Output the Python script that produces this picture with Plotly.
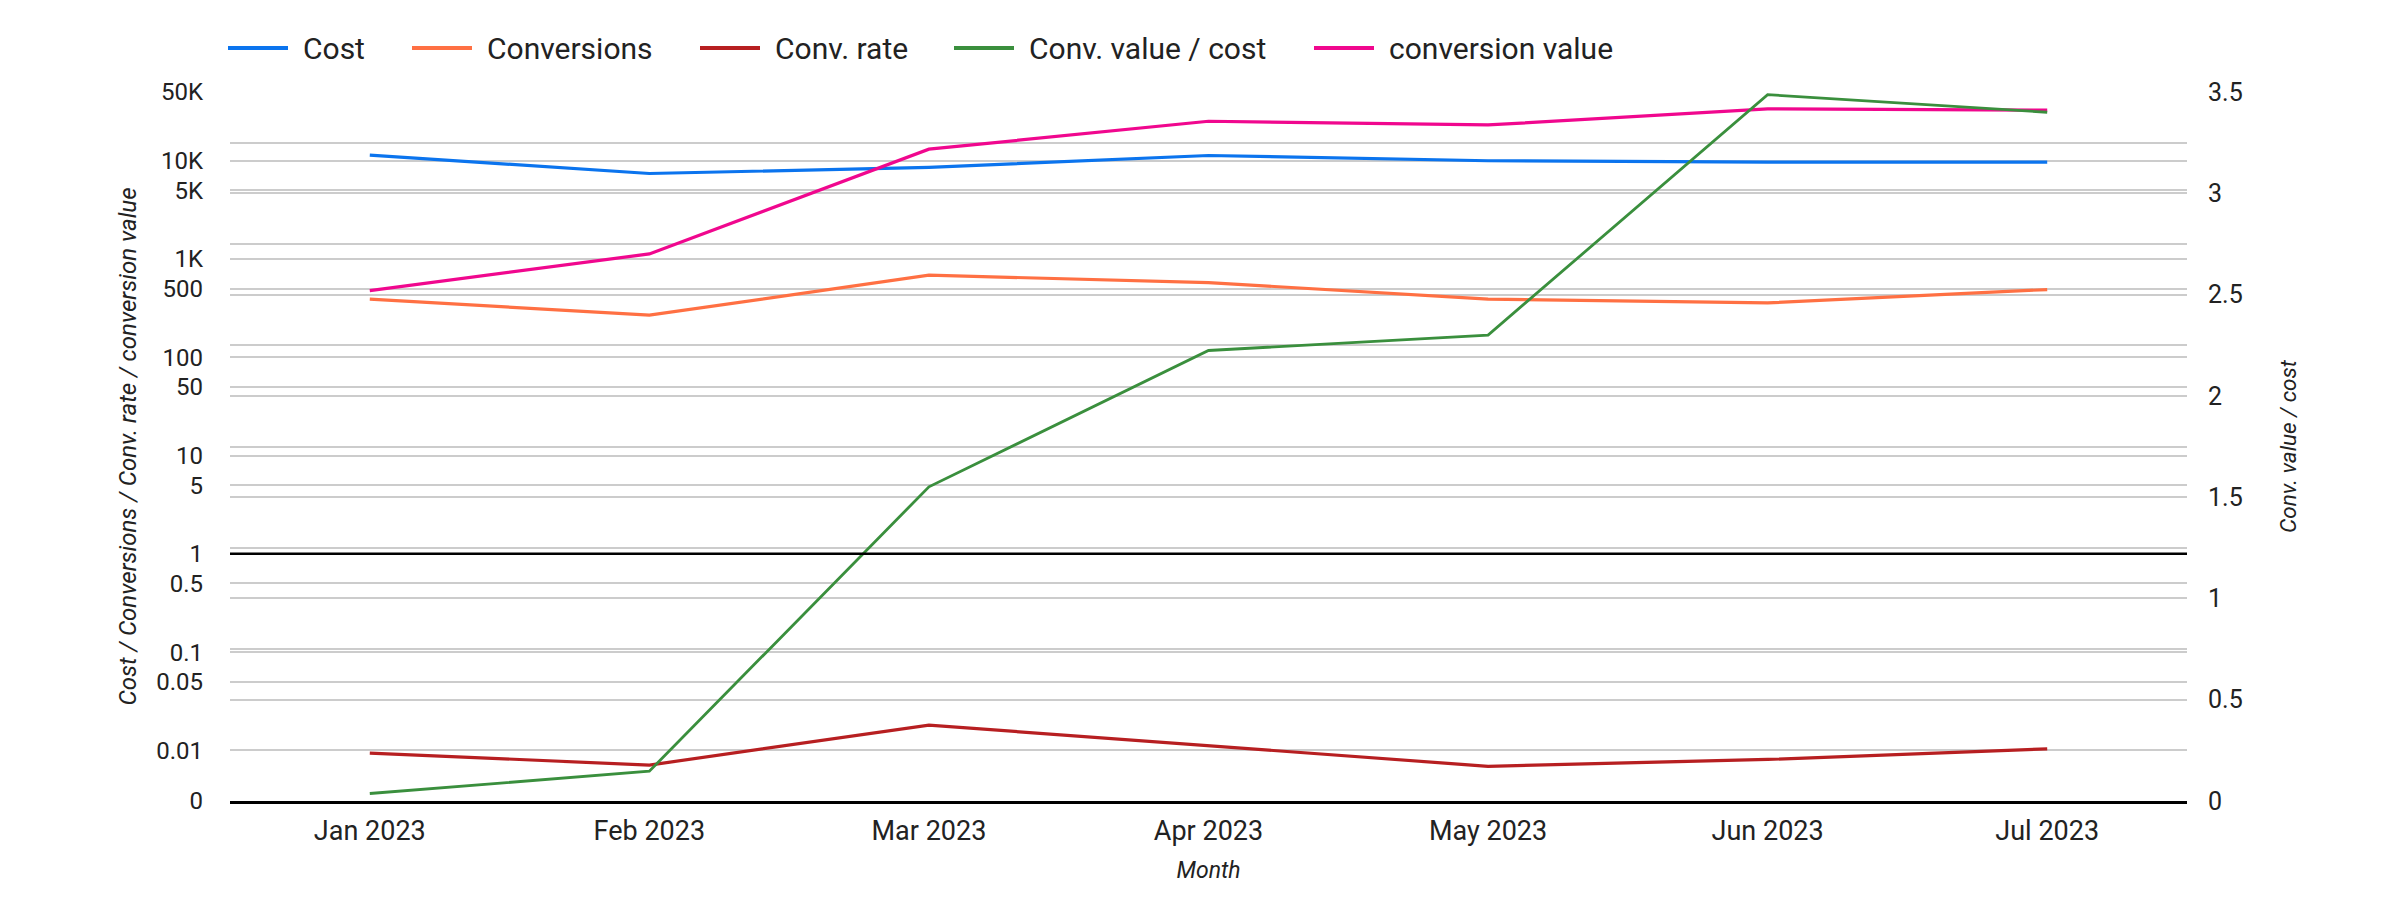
import math
import plotly.graph_objects as go

months = ["Jan 2023", "Feb 2023", "Mar 2023", "Apr 2023", "May 2023", "Jun 2023", "Jul 2023"]
cost = [11400, 7410, 8550, 11300, 9990, 9690, 9690]
conversions = [390, 268, 684, 575, 390, 357, 489]
conv_rate = [0.0094, 0.0071, 0.0181, 0.0112, 0.0069, 0.0081, 0.0104]
conv_value_per_cost = [0.037, 0.147, 1.551, 2.224, 2.30, 3.487, 3.40]
conversion_value = [477, 1127, 13100, 25200, 23100, 33700, 32700]

left_tick_vals = [0.00306, 0.01, 0.05, 0.1, 0.5, 1, 5, 10, 50, 100, 500, 1000, 5000, 10000, 50000]
left_tick_text = ["0", "0.01", "0.05", "0.1", "0.5", "1", "5", "10", "50", "100", "500", "1K", "5K", "10K", "50K"]
right_tick_vals = [i * 0.25 for i in range(15)]
right_tick_text = [("%g" % v) if i % 2 == 0 else "" for i, v in enumerate(right_tick_vals)]

FONT = "Roboto"
TXT = "#222222"
W, H = 2400, 898
ML, MR, MT, MB = 230, 213, 92, 97
PW, PH = W - ML - MR, H - MT - MB


def px_x(px):
    return (px - ML) / PW


def px_y(py):
    return (H - MB - py) / PH


fig = go.Figure()
series = [
    ("Cost", cost, "#0b74ee", 3.2, "y"),
    ("Conversions", conversions, "#ff7043", 3.2, "y"),
    ("Conv. rate", conv_rate, "#b71f21", 3.2, "y"),
    ("Conv. value / cost", conv_value_per_cost, "#3a8f3d", 2.8, "y2"),
    ("conversion value", conversion_value, "#f0078e", 3.2, "y"),
]
for name, vals, color, w, ax in series:
    fig.add_trace(go.Scatter(x=months, y=vals, name=name, mode="lines",
                             line=dict(color=color, width=w), yaxis=ax, showlegend=False))

# manual legend (line swatch 60px + label), matching the chart's header row
legend_starts = [228, 412, 700, 954, 1314]
shapes = [dict(type="line", xref="paper", x0=0, x1=1, yref="y", y0=1, y1=1,
               line=dict(color="black", width=2.5), layer="above")]
annotations = []
for (name, vals, color, w, ax), sx in zip(series, legend_starts):
    shapes.append(dict(type="line", xref="paper", yref="paper",
                       x0=px_x(sx), x1=px_x(sx + 60), y0=px_y(48), y1=px_y(48),
                       line=dict(color=color, width=4)))
    annotations.append(dict(text=name, xref="paper", yref="paper", x=px_x(sx + 73), y=px_y(48),
                            xanchor="left", yanchor="middle", showarrow=False,
                            font=dict(size=30, color=TXT, family=FONT)))

fig.update_layout(
    width=W, height=H,
    margin=dict(l=ML, r=MR, t=MT, b=MB),
    paper_bgcolor="white", plot_bgcolor="white",
    font=dict(family=FONT, size=24, color=TXT),
    showlegend=False,
    xaxis=dict(type="category", range=[-0.5, 6.5], showgrid=False,
               showline=True, linecolor="black", linewidth=2.5,
               tickfont=dict(size=27, color=TXT), ticks="", ticklabelstandoff=4,
               title=dict(text="<i>Month</i>", font=dict(size=23, color=TXT), standoff=16)),
    yaxis=dict(type="log", range=[math.log10(0.00306), math.log10(50000)],
               tickvals=left_tick_vals, ticktext=left_tick_text,
               showgrid=True, gridcolor="#cccccc", gridwidth=1.6,
               tickfont=dict(size=24, color=TXT), ticklabelstandoff=26,
               zeroline=False, showline=False,
               title=dict(text="<i>Cost / Conversions / Conv. rate / conversion value</i>",
                          font=dict(size=24, color=TXT), standoff=12)),
    yaxis2=dict(overlaying="y", side="right", range=[0, 3.5],
                tickvals=right_tick_vals, ticktext=right_tick_text,
                showgrid=True, gridcolor="#cccccc", gridwidth=1.6,
                tickfont=dict(size=25, color=TXT), ticklabelstandoff=20,
                zeroline=False, showline=False,
                title=dict(text="<i>Conv. value / cost</i>",
                           font=dict(size=22.5, color=TXT), standoff=38)),
    shapes=shapes,
    annotations=annotations,
)

fig.write_html("out.html", config={"displayModeBar": False},
               post_script="document.body.style.margin='0';document.body.style.overflow='hidden';")
